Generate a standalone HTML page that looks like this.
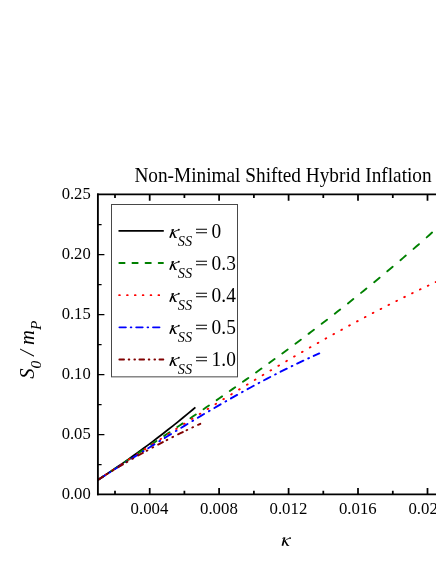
<!DOCTYPE html>
<html>
<head>
<meta charset="utf-8">
<style>
html,body{margin:0;padding:0;background:#fff;}
body{width:436px;height:564px;overflow:hidden;}
svg{display:block;will-change:transform;}
text{font-family:"Liberation Serif",serif;fill:#000;}
.tk{font-size:16.5px;}
.lg{font-size:19.4px;}
.it{font-style:italic;}
</style>
</head>
<body>
<svg width="436" height="564" viewBox="0 0 436 564">
<rect x="0" y="0" width="436" height="564" fill="#fff"/>
<defs>
<clipPath id="plotclip"><rect x="97.9" y="194" width="340" height="300"/></clipPath>
</defs>

<!-- title -->
<text transform="translate(134.4,182.1) scale(1,1.07)" font-size="19.3">Non-Minimal Shifted Hybrid Inflation</text>

<!-- curves -->
<g fill="none" stroke-width="1.9" stroke-linecap="round" stroke-linejoin="round" clip-path="url(#plotclip)">
<path d="M97.90,479.90L102.90,476.65L107.90,473.34L112.90,469.99L117.90,466.59L122.90,463.13L127.90,459.63L132.90,456.08L137.90,452.47L142.90,448.82L147.90,445.12L152.90,441.36L157.90,437.56L162.90,433.71L167.90,429.81L172.90,425.85L177.90,421.85L182.90,417.80L187.90,413.69L192.90,409.54L195.40,407.44" stroke="#000" stroke-linecap="butt" stroke-width="1.75"/>
<path d="M98.55,479.47L101.25,477.69L103.95,475.91M111.67,470.80L114.38,469.02L117.08,467.23M124.80,462.12L127.50,460.33L130.20,458.54M137.93,453.41L140.62,451.62L143.33,449.82M151.05,444.67L153.75,442.87L156.45,441.06M164.18,435.89L166.88,434.08L169.58,432.26M177.30,427.05L180.00,425.23L182.70,423.40M190.43,418.16L193.12,416.32L195.83,414.48M203.55,409.19L206.25,407.34L208.95,405.48M216.68,400.15L219.38,398.28L222.08,396.40M229.80,391.01L232.50,389.12L235.20,387.23M242.93,381.78L245.62,379.87L248.33,377.96M256.05,372.45L258.75,370.52L261.45,368.58M269.18,363.00L271.88,361.04L274.57,359.08M282.30,353.43L285.00,351.44L287.70,349.45M295.43,343.72L298.12,341.71L300.82,339.69M308.55,333.87L311.25,331.83L313.95,329.78M321.68,323.87L324.38,321.80L327.07,319.71M334.80,313.71L337.50,311.60L340.20,309.49M347.93,303.39L350.62,301.24L353.32,299.09M361.05,292.88L363.75,290.70L366.45,288.50M374.18,282.19L376.88,279.96L379.57,277.73M387.30,271.30L390.00,269.03L392.70,266.76M400.43,260.21L403.12,257.90L405.82,255.58M413.55,248.90L416.25,246.55L418.95,244.18M426.68,237.37L429.38,234.97L432.07,232.56M439.80,225.61L439.90,225.52L440.00,225.43" stroke="#008000"/>
<path d="M97.45,480.20L98.15,479.74M105.31,475.03L106.01,474.57M113.18,469.88L113.88,469.42M121.05,464.73L121.74,464.27M128.91,459.59L129.61,459.14M136.78,454.47L137.47,454.01M144.64,449.36L145.34,448.91M152.50,444.26L153.20,443.81M160.37,439.19L161.07,438.73M168.23,434.12L168.93,433.68M176.10,429.08L176.80,428.63M183.97,424.06L184.66,423.61M191.83,419.06L192.53,418.62M199.70,414.08L200.40,413.64M207.56,409.13L208.26,408.69M215.43,404.20L216.12,403.76M223.29,399.30L223.99,398.87M231.16,394.43L231.85,394.00M239.02,389.59L239.72,389.16M246.89,384.78L247.59,384.35M254.75,380.00L255.45,379.57M262.61,375.25L263.31,374.83M270.48,370.54L271.18,370.12M278.34,365.87L279.05,365.45M286.21,361.23L286.91,360.82M294.07,356.64L294.78,356.23M301.94,352.08L302.64,351.68M309.81,347.57L310.51,347.17M317.67,343.10L318.37,342.70M325.53,338.67L326.24,338.28M333.40,334.29L334.10,333.90M341.26,329.96L341.97,329.58M349.13,325.68L349.83,325.30M357.00,321.44L357.70,321.07M364.86,317.26L365.56,316.89M372.73,313.13L373.43,312.77M380.59,309.06L381.29,308.70M388.45,305.04L389.16,304.68M396.32,301.07L397.02,300.72M404.19,297.17L404.89,296.82M412.05,293.32L412.75,292.98M419.92,289.54L420.62,289.20M427.78,285.82L428.48,285.49M435.64,282.16L436.35,281.83" stroke="#ff0000" stroke-width="1.85"/>
<path d="M98.55,479.49L101.65,477.53L104.75,475.57M109.65,472.48L110.35,472.03M115.10,469.03L118.20,467.07L121.30,465.12M126.20,462.02L126.90,461.58M131.65,458.59L134.75,456.64L137.85,454.69M142.75,451.61L143.45,451.17M148.20,448.20L151.30,446.26L154.40,444.33M159.30,441.28L160.00,440.84M164.75,437.90L167.85,435.98L170.95,434.07M175.85,431.06L176.55,430.63M181.30,427.73L184.40,425.84L187.50,423.96M192.40,421.00L193.10,420.58M197.85,417.73L200.95,415.88L204.05,414.04M208.95,411.15L209.65,410.73M214.40,407.95L217.50,406.14L220.60,404.35M225.50,401.53L226.20,401.12M230.95,398.42L234.05,396.66L237.15,394.92M242.05,392.18L242.75,391.79M247.50,389.17L250.60,387.48L253.70,385.79M258.60,383.16L259.30,382.78M264.05,380.26L267.15,378.63L270.25,377.02M275.15,374.49L275.85,374.13M280.60,371.72L283.70,370.17L286.80,368.62M291.70,366.22L292.40,365.88M297.15,363.59L300.25,362.12L303.35,360.66M308.25,358.39L308.95,358.07M313.70,355.91L316.48,354.67L319.25,353.44" stroke="#0000ff"/>
<path d="M98.30,479.64L100.65,478.14L103.00,476.65M106.75,474.29L107.45,473.85M112.55,470.69L113.25,470.26M118.25,467.22L120.60,465.80L122.95,464.40M126.70,462.18L127.40,461.77M132.50,458.79L133.20,458.39M138.20,455.53L140.55,454.20L142.90,452.88M146.65,450.80L147.35,450.41M152.45,447.63L153.15,447.25M158.15,444.57L160.50,443.33L162.85,442.10M166.60,440.15L167.30,439.79M172.40,437.20L173.10,436.84M178.10,434.35L180.45,433.19L182.80,432.05M186.55,430.24L187.25,429.91M192.35,427.50L193.05,427.17M198.05,424.86L199.18,424.35L200.30,423.84" stroke="#800000"/>
</g>

<!-- axes -->
<g stroke="#000" fill="none">
<path d="M97.9,193.45 V495.3" stroke-width="1.85"/>
<path d="M97,494.45 H436" stroke-width="1.7"/>
<path d="M97,194.3 H436" stroke-width="1.7"/>
</g>
<!-- ticks -->
<g stroke="#000" stroke-width="1.45" fill="none">
<path d="M97.9,434.6 h6.5 M97.9,374.6 h6.5 M97.9,314.6 h6.5 M97.9,254.6 h6.5"/>
<path d="M97.9,464.6 h3.7 M97.9,404.6 h3.7 M97.9,344.6 h3.7 M97.9,284.6 h3.7 M97.9,224.6 h3.7"/>
</g>
<g stroke="#000" stroke-width="1.75" fill="none">
<path d="M149.7,494.45 v-6.5 M219.1,494.45 v-6.5 M288.6,494.45 v-6.5 M358.0,494.45 v-6.5 M427.5,494.45 v-6.5"/>
<path d="M115.0,494.45 v-3.7 M184.4,494.45 v-3.7 M253.9,494.45 v-3.7 M323.3,494.45 v-3.7 M392.8,494.45 v-3.7"/>
<path d="M149.7,194.3 v6.5 M219.1,194.3 v6.5 M288.6,194.3 v6.5 M358.0,194.3 v6.5 M427.5,194.3 v6.5"/>
<path d="M115.0,194.3 v3.7 M184.4,194.3 v3.7 M253.9,194.3 v3.7 M323.3,194.3 v3.7 M392.8,194.3 v3.7"/>
</g>

<!-- tick labels -->
<g font-size="16.6" text-anchor="end">
<text transform="translate(90.7,199.0) scale(1,1.05)">0.25</text>
<text transform="translate(90.7,259.0) scale(1,1.05)">0.20</text>
<text transform="translate(90.7,319.0) scale(1,1.05)">0.15</text>
<text transform="translate(90.7,379.0) scale(1,1.05)">0.10</text>
<text transform="translate(90.7,439.0) scale(1,1.05)">0.05</text>
<text transform="translate(90.7,499.0) scale(1,1.05)">0.00</text>
</g>
<g font-size="16.8" text-anchor="middle">
<text transform="translate(149.5,513.7) scale(1,1.05)">0.004</text>
<text transform="translate(218.9,513.7) scale(1,1.05)">0.008</text>
<text transform="translate(288.4,513.7) scale(1,1.05)">0.012</text>
<text transform="translate(357.8,513.7) scale(1,1.05)">0.016</text>
<text transform="translate(427.3,513.7) scale(1,1.05)">0.020</text>
</g>

<!-- axis labels -->
<g transform="translate(281.5,545.7)" fill="none" stroke="#000" stroke-linecap="butt"><path d="M3.1,-8.3 L0.9,0" stroke-width="1.7"/><path d="M0.8,-7.2 L2.6,-8.0" stroke-width="0.7"/><path d="M2.4,-4.0 Q4.6,-6.6 8.0,-7.5" stroke-width="0.8"/><circle cx="8.6" cy="-7.6" r="0.95" fill="#000" stroke="none"/><path d="M3.2,-5.0 L6.1,-0.2" stroke-width="1.5"/><path d="M5.4,-0.3 L7.7,-0.15" stroke-width="0.8"/></g>
<text transform="translate(33.5,378.8) rotate(-90) scale(1.025,1)" class="it" font-size="20">S<tspan font-size="15" dy="7.5">0</tspan><tspan dy="-7.5"> / m</tspan><tspan font-size="15" dy="7.5">P</tspan></text>

<!-- legend -->
<rect x="111.5" y="204.5" width="126" height="172.35" fill="#fff" stroke="#484848" stroke-width="1"/>
<g fill="none" stroke-width="1.85" stroke-linecap="round">
<path d="M118.5,230.80H163.8" stroke="#000" stroke-linecap="butt" stroke-width="1.8"/>
<path d="M119.30,262.97H124.60M132.43,262.97H137.72M145.55,262.97H150.85M158.68,262.97H163.00" stroke="#008000"/>
<path d="M119.15,295.14H119.85M127.02,295.14H127.71M134.88,295.14H135.58M142.75,295.14H143.44M150.61,295.14H151.31M158.47,295.14H159.17" stroke="#ff0000"/>
<path d="M119.40,327.31H125.90M130.70,327.31H131.40M136.20,327.31H142.70M147.50,327.31H148.20M153.00,327.31H159.50" stroke="#0000ff"/>
<path d="M119.35,359.48H124.05M128.65,359.48H129.35M134.35,359.48H135.05M139.40,359.48H144.10M148.70,359.48H149.40M154.40,359.48H155.10M159.45,359.48H163.35" stroke="#800000"/>
</g>
<g class="lg">
<g transform="translate(169.1,237.75) skewX(-8) scale(1.0,1.04)" fill="none" stroke="#000" stroke-linecap="butt"><path d="M3.1,-8.3 L0.9,0" stroke-width="1.7"/><path d="M0.8,-7.2 L2.6,-8.0" stroke-width="0.7"/><path d="M2.4,-4.0 Q4.6,-6.6 8.0,-7.5" stroke-width="0.8"/><circle cx="8.6" cy="-7.6" r="0.95" fill="#000" stroke="none"/><path d="M3.2,-5.0 L6.1,-0.2" stroke-width="1.5"/><path d="M5.4,-0.3 L7.7,-0.15" stroke-width="0.8"/></g><text transform="translate(177.8,245.55) scale(1,1.06)" class="it" font-size="14.3">SS</text><path d="M196,229.20 H207 M196,232.80 H207" stroke="#000" stroke-width="1.05" fill="none"/><g transform="translate(0,237.55) scale(1,1.075)"><text x="211.6" y="0">0</text></g>
<g transform="translate(169.1,269.75) skewX(-8) scale(1.0,1.04)" fill="none" stroke="#000" stroke-linecap="butt"><path d="M3.1,-8.3 L0.9,0" stroke-width="1.7"/><path d="M0.8,-7.2 L2.6,-8.0" stroke-width="0.7"/><path d="M2.4,-4.0 Q4.6,-6.6 8.0,-7.5" stroke-width="0.8"/><circle cx="8.6" cy="-7.6" r="0.95" fill="#000" stroke="none"/><path d="M3.2,-5.0 L6.1,-0.2" stroke-width="1.5"/><path d="M5.4,-0.3 L7.7,-0.15" stroke-width="0.8"/></g><text transform="translate(177.8,277.55) scale(1,1.06)" class="it" font-size="14.3">SS</text><path d="M196,261.20 H207 M196,264.80 H207" stroke="#000" stroke-width="1.05" fill="none"/><g transform="translate(0,269.55) scale(1,1.075)"><text x="211.6" y="0">0.3</text></g>
<g transform="translate(169.1,301.75) skewX(-8) scale(1.0,1.04)" fill="none" stroke="#000" stroke-linecap="butt"><path d="M3.1,-8.3 L0.9,0" stroke-width="1.7"/><path d="M0.8,-7.2 L2.6,-8.0" stroke-width="0.7"/><path d="M2.4,-4.0 Q4.6,-6.6 8.0,-7.5" stroke-width="0.8"/><circle cx="8.6" cy="-7.6" r="0.95" fill="#000" stroke="none"/><path d="M3.2,-5.0 L6.1,-0.2" stroke-width="1.5"/><path d="M5.4,-0.3 L7.7,-0.15" stroke-width="0.8"/></g><text transform="translate(177.8,309.55) scale(1,1.06)" class="it" font-size="14.3">SS</text><path d="M196,293.20 H207 M196,296.80 H207" stroke="#000" stroke-width="1.05" fill="none"/><g transform="translate(0,301.55) scale(1,1.075)"><text x="211.6" y="0">0.4</text></g>
<g transform="translate(169.1,333.75) skewX(-8) scale(1.0,1.04)" fill="none" stroke="#000" stroke-linecap="butt"><path d="M3.1,-8.3 L0.9,0" stroke-width="1.7"/><path d="M0.8,-7.2 L2.6,-8.0" stroke-width="0.7"/><path d="M2.4,-4.0 Q4.6,-6.6 8.0,-7.5" stroke-width="0.8"/><circle cx="8.6" cy="-7.6" r="0.95" fill="#000" stroke="none"/><path d="M3.2,-5.0 L6.1,-0.2" stroke-width="1.5"/><path d="M5.4,-0.3 L7.7,-0.15" stroke-width="0.8"/></g><text transform="translate(177.8,341.55) scale(1,1.06)" class="it" font-size="14.3">SS</text><path d="M196,325.20 H207 M196,328.80 H207" stroke="#000" stroke-width="1.05" fill="none"/><g transform="translate(0,333.55) scale(1,1.075)"><text x="211.6" y="0">0.5</text></g>
<g transform="translate(169.1,365.75) skewX(-8) scale(1.0,1.04)" fill="none" stroke="#000" stroke-linecap="butt"><path d="M3.1,-8.3 L0.9,0" stroke-width="1.7"/><path d="M0.8,-7.2 L2.6,-8.0" stroke-width="0.7"/><path d="M2.4,-4.0 Q4.6,-6.6 8.0,-7.5" stroke-width="0.8"/><circle cx="8.6" cy="-7.6" r="0.95" fill="#000" stroke="none"/><path d="M3.2,-5.0 L6.1,-0.2" stroke-width="1.5"/><path d="M5.4,-0.3 L7.7,-0.15" stroke-width="0.8"/></g><text transform="translate(177.8,373.55) scale(1,1.06)" class="it" font-size="14.3">SS</text><path d="M196,357.20 H207 M196,360.80 H207" stroke="#000" stroke-width="1.05" fill="none"/><g transform="translate(0,365.55) scale(1,1.075)"><text x="211.6" y="0">1.0</text></g>
</g>
</svg>
</body>
</html>
